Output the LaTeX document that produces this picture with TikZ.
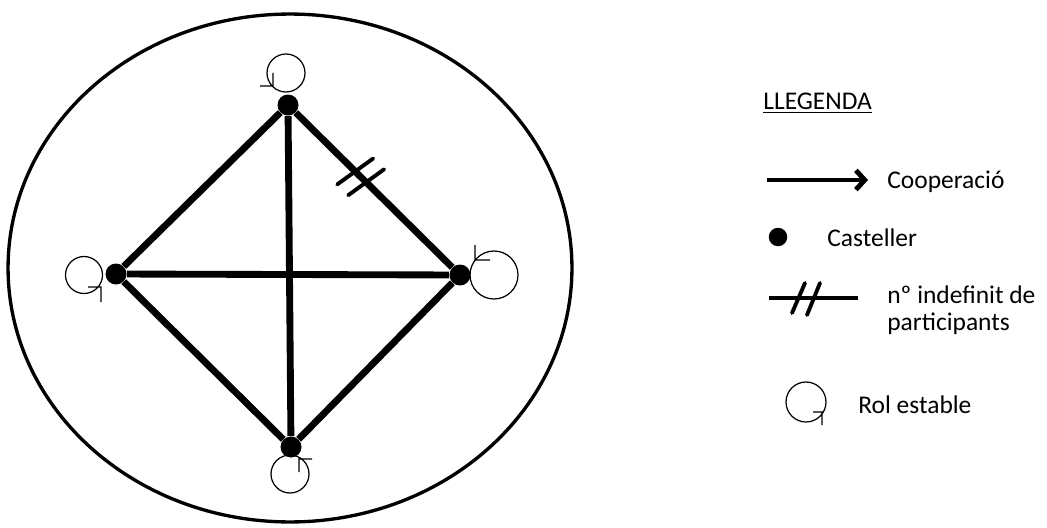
\documentclass[tikz,border=0pt]{standalone}
\usepackage{fontspec}
\setmainfont{Carlito}
\usetikzlibrary{arrows.meta,calc}

\begin{document}
\begin{tikzpicture}[x=0.02cm,y=-0.02cm,
    cast/.style={circle,fill=black,inner sep=0pt,minimum size=0.42cm},
    coop/.style={line width=3.9pt},
    rol/.style={line width=0.7pt},
    hash/.style={line width=2.2pt,line cap=round},
    lbl/.style={anchor=base west,inner sep=0pt,font=\fontsize{14.5}{16}\selectfont}]
        \useasboundingbox (0,0) rectangle (1047,527);
        \draw[line width=1.9pt] (290,268) ellipse[x radius=5.64cm,y radius=5.08cm];
        % castellers
        \node[cast] (top) at (288,105) {};
        \node[cast] (lft) at (116,274) {};
        \node[cast] (rgt) at (460,275) {};
        \node[cast] (bot) at (291,447) {};
        \foreach \a/\b in {top/rgt,rgt/bot,bot/lft,lft/top,top/bot,lft/rgt}{\draw[coop] (\a)--(\b);}
        \path (top)--(rgt) coordinate[pos=.38] (h1) coordinate[pos=.45] (h2);
        \foreach \h in {h1,h2}{\draw[hash] ($(\h)+(-18,13)$)--($(\h)+(18,-13)$);}
        % rols estables
        \draw[rol] (286,73) circle[radius=.38cm] (260,86)--(273,86)--(273,73);
        \draw[rol] (84,275) circle[radius=.37cm] (88,287)--(101,287)--(101,302);
        \draw[rol] (494,275) circle[radius=.48cm] (475,245)--(475,260)--(490,260);
        \draw[rol] (290,474) circle[radius=.38cm] (299,472)--(299,459)--(312,459);
        % llegenda
        \node[lbl] (llegenda) at (763,110) {\underline{LLEGENDA}};
        \coordinate (a0) at (767,180);
        \coordinate (a1) at (868,180);
        \draw[line width=2.8pt,-{Straight Barb[length=5pt,width=11pt]}] (a0)--(a1);
        \node[lbl] (coopTxt) at (887,188) {Cooperació};
        \node[cast,minimum size=.37cm] (legCast) at (778,237) {};
        \node[lbl] (castTxt) at (827,246) {Casteller};
        \coordinate (b0) at (769,298);
        \coordinate (b1) at (858,298);
        \draw[line width=2.8pt] (b0)--(b1);
        \draw[hash] (792,313)--(805,283) (807,315)--(820,283);
        \node[lbl] (partTxt) at (887,303) {nº indefinit de};
        \node[lbl] (partTxt2) at (887,330) {participants};
        \draw[rol] (806,402) circle[radius=.4cm] (813,412)--(822,412)--(822,425);
        \node[lbl] (rolTxt) at (858,413) {Rol estable};
\end{tikzpicture}
\end{document}
